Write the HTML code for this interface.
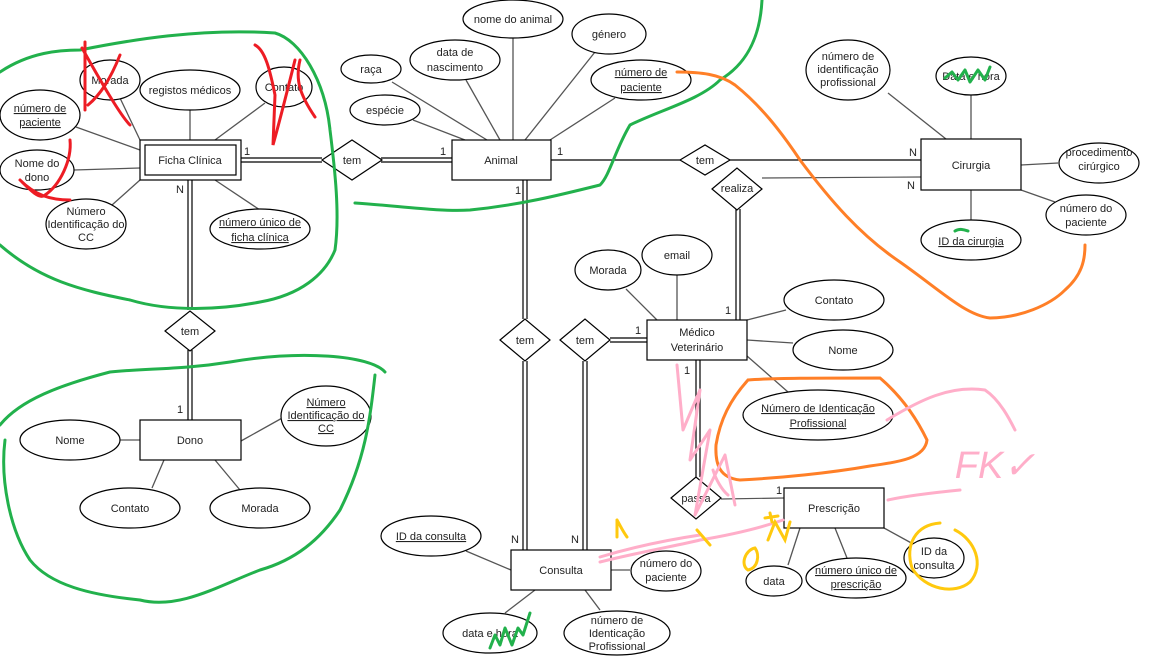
<!DOCTYPE html>
<html><head><meta charset="utf-8"><style>
html,body{margin:0;padding:0;background:#fff;}
svg{display:block;font-family:"Liberation Sans",Arial,sans-serif;}
text{font-size:11px;fill:#222;text-anchor:middle;}
.e{fill:#fff;stroke:#000;stroke-width:1.2;}
.r{fill:#fff;stroke:#000;stroke-width:1.2;}
.l{stroke:#555;stroke-width:1.3;fill:none;}
.d{stroke:#000;stroke-width:1.2;fill:none;}
.g{stroke:#22b14c;stroke-width:3;fill:none;stroke-linecap:round;stroke-linejoin:round;}
.rd{stroke:#ed1c24;stroke-width:3;fill:none;stroke-linecap:round;}
.o{stroke:#ff7f27;stroke-width:3;fill:none;stroke-linecap:round;}
.p{stroke:#ffaec9;stroke-width:3;fill:none;stroke-linecap:round;stroke-linejoin:round;}
.y{stroke:#ffc90e;stroke-width:3;fill:none;stroke-linecap:round;}
</style></head><body>
<svg width="1152" height="656" viewBox="0 0 1152 656" xmlns="http://www.w3.org/2000/svg">
<!-- attribute lines -->
<g class="l">
<line x1="120" y1="98" x2="140" y2="140"/>
<line x1="190" y1="110" x2="190" y2="140"/>
<line x1="265" y1="103" x2="215" y2="140"/>
<line x1="76" y1="127" x2="140" y2="150"/>
<line x1="74" y1="170" x2="140" y2="168"/>
<line x1="112" y1="205" x2="140" y2="180"/>
<line x1="260" y1="210" x2="215" y2="180"/>
<line x1="392" y1="82" x2="487" y2="140"/>
<line x1="413" y1="120" x2="465" y2="140"/>
<line x1="466" y1="80" x2="500" y2="140"/>
<line x1="513" y1="37" x2="513" y2="140"/>
<line x1="595" y1="52" x2="525" y2="140"/>
<line x1="615" y1="98" x2="550" y2="140"/>
<line x1="888" y1="93" x2="946" y2="139"/>
<line x1="971" y1="94" x2="971" y2="139"/>
<line x1="1058" y1="163" x2="1021" y2="165"/>
<line x1="1055" y1="202" x2="1021" y2="190"/>
<line x1="971" y1="190" x2="971" y2="220"/>
<line x1="626" y1="289" x2="657" y2="320"/>
<line x1="677" y1="275" x2="677" y2="320"/>
<line x1="786" y1="310" x2="747" y2="320"/>
<line x1="793" y1="343" x2="747" y2="340"/>
<line x1="788" y1="392" x2="747" y2="356"/>
<line x1="120" y1="440" x2="140" y2="440"/>
<line x1="284" y1="417" x2="241" y2="441"/>
<line x1="152" y1="488" x2="164" y2="460"/>
<line x1="240" y1="490" x2="215" y2="460"/>
<line x1="466" y1="551" x2="511" y2="570"/>
<line x1="611" y1="570" x2="630" y2="570"/>
<line x1="505" y1="613" x2="535" y2="590"/>
<line x1="600" y1="610" x2="585" y2="590"/>
<line x1="788" y1="565" x2="800" y2="528"/>
<line x1="847" y1="558" x2="835" y2="528"/>
<line x1="915" y1="545" x2="884" y2="528"/>
</g>
<!-- relationship lines -->
<g class="d">
<line x1="241" y1="158" x2="322" y2="158"/><line x1="241" y1="162" x2="322" y2="162"/>
<line x1="381" y1="158" x2="452" y2="158"/><line x1="381" y1="162" x2="452" y2="162"/>
<line x1="188" y1="180" x2="188" y2="310"/><line x1="192" y1="180" x2="192" y2="310"/>
<line x1="188" y1="350" x2="188" y2="420"/><line x1="192" y1="350" x2="192" y2="420"/>
<line x1="523" y1="180" x2="523" y2="319"/><line x1="527" y1="180" x2="527" y2="319"/>
<line x1="523" y1="361" x2="523" y2="550"/><line x1="527" y1="361" x2="527" y2="550"/>
<line x1="583" y1="361" x2="583" y2="550"/><line x1="587" y1="361" x2="587" y2="550"/>
<line x1="610" y1="338" x2="647" y2="338"/><line x1="610" y1="342" x2="647" y2="342"/>
<line x1="696" y1="360" x2="696" y2="477"/><line x1="700" y1="360" x2="700" y2="477"/>
<line x1="736" y1="209" x2="736" y2="320"/><line x1="740" y1="209" x2="740" y2="320"/>
<line x1="551" y1="160" x2="680" y2="160"/>
<line x1="730" y1="160" x2="921" y2="160"/>
<line x1="762" y1="178" x2="921" y2="177" stroke="#555"/>
<line x1="721" y1="499" x2="784" y2="498" stroke="#555"/>
</g>
<!-- entities -->
<rect class="r" x="140" y="140" width="101" height="40"/>
<rect class="r" x="145" y="145" width="91" height="30"/>
<text x="190" y="164">Ficha Clínica</text>
<rect class="r" x="452" y="140" width="99" height="40"/><text x="501" y="164">Animal</text>
<rect class="r" x="921" y="139" width="100" height="51"/><text x="971" y="169">Cirurgia</text>
<rect class="r" x="647" y="320" width="100" height="40"/><text x="697" y="336">Médico</text><text x="697" y="351">Veterinário</text>
<rect class="r" x="140" y="420" width="101" height="40"/><text x="190" y="444">Dono</text>
<rect class="r" x="511" y="550" width="100" height="40"/><text x="561" y="574">Consulta</text>
<rect class="r" x="784" y="488" width="100" height="40"/><text x="834" y="512">Prescrição</text>
<!-- diamonds -->
<g class="r">
<polygon points="322,160 352,140 382,160 352,180"/>
<polygon points="680,160 705,145 730,160 705,175"/>
<polygon points="712,189 737,168 762,189 737,210"/>
<polygon points="165,331 190,311 215,331 190,351"/>
<polygon points="500,340 525,319 550,340 525,361"/>
<polygon points="560,340 585,319 610,340 585,361"/>
<polygon points="671,498 696,477 721,498 696,519"/>
</g>
<text x="352" y="164">tem</text><text x="705" y="164">tem</text><text x="737" y="192">realiza</text>
<text x="190" y="335">tem</text><text x="525" y="344">tem</text><text x="585" y="344">tem</text><text x="696" y="502">passa</text>
<!-- cardinalities -->
<text x="247" y="155">1</text><text x="443" y="155">1</text><text x="560" y="155">1</text><text x="518" y="194">1</text>
<text x="180" y="193">N</text><text x="180" y="413">1</text>
<text x="913" y="156">N</text><text x="911" y="189">N</text>
<text x="728" y="314">1</text><text x="638" y="334">1</text><text x="687" y="374">1</text>
<text x="515" y="543">N</text><text x="575" y="543">N</text><text x="779" y="494">1</text>
<!-- ellipses -->
<g class="e">
<ellipse cx="110" cy="80" rx="30" ry="20"/>
<ellipse cx="190" cy="90" rx="50" ry="20"/>
<ellipse cx="284" cy="87" rx="28" ry="20"/>
<ellipse cx="40" cy="115" rx="40" ry="25"/>
<ellipse cx="37" cy="170" rx="37" ry="20"/>
<ellipse cx="86" cy="224" rx="40" ry="25"/>
<ellipse cx="260" cy="229" rx="50" ry="20"/>
<ellipse cx="371" cy="69" rx="30" ry="14"/>
<ellipse cx="385" cy="110" rx="35" ry="15"/>
<ellipse cx="455" cy="60" rx="45" ry="20"/>
<ellipse cx="513" cy="19" rx="50" ry="19"/>
<ellipse cx="609" cy="34" rx="37" ry="20"/>
<ellipse cx="641" cy="80" rx="50" ry="20"/>
<ellipse cx="848" cy="70" rx="42" ry="30"/>
<ellipse cx="971" cy="76" rx="35" ry="19"/>
<ellipse cx="1099" cy="163" rx="40" ry="20"/>
<ellipse cx="971" cy="240" rx="50" ry="20"/>
<ellipse cx="1086" cy="215" rx="40" ry="20"/>
<ellipse cx="608" cy="270" rx="33" ry="20"/>
<ellipse cx="677" cy="255" rx="35" ry="20"/>
<ellipse cx="834" cy="300" rx="50" ry="20"/>
<ellipse cx="843" cy="350" rx="50" ry="20"/>
<ellipse cx="818" cy="415" rx="75" ry="25"/>
<ellipse cx="70" cy="440" rx="50" ry="20"/>
<ellipse cx="326" cy="416" rx="45" ry="30"/>
<ellipse cx="130" cy="508" rx="50" ry="20"/>
<ellipse cx="260" cy="508" rx="50" ry="20"/>
<ellipse cx="431" cy="536" rx="50" ry="20"/>
<ellipse cx="666" cy="571" rx="35" ry="20"/>
<ellipse cx="490" cy="633" rx="47" ry="20"/>
<ellipse cx="617" cy="633" rx="53" ry="22"/>
<ellipse cx="774" cy="581" rx="28" ry="15"/>
<ellipse cx="856" cy="578" rx="50" ry="20"/>
<ellipse cx="934" cy="558" rx="30" ry="20"/>
</g>
<g>
<text x="110" y="84">Morada</text>
<text x="190" y="94">registos médicos</text>
<text x="284" y="91">Contato</text>
<text x="40" y="112" text-decoration="underline">número de</text><text x="40" y="126" text-decoration="underline">paciente</text>
<text x="37" y="167">Nome do</text><text x="37" y="181">dono</text>
<text x="86" y="215">Número</text><text x="86" y="228">Identificação do</text><text x="86" y="241">CC</text>
<text x="260" y="226" text-decoration="underline">número único de</text><text x="260" y="241" text-decoration="underline">ficha clínica</text>
<text x="371" y="73">raça</text>
<text x="385" y="114">espécie</text>
<text x="455" y="56">data de</text><text x="455" y="71">nascimento</text>
<text x="513" y="23">nome do animal</text>
<text x="609" y="38">género</text>
<text x="641" y="76" text-decoration="underline">número de</text><text x="641" y="91" text-decoration="underline">paciente</text>
<text x="848" y="60">número de</text><text x="848" y="73">identificação</text><text x="848" y="86">profissional</text>
<text x="971" y="80">Data e hora</text>
<text x="1099" y="156">procedimento</text><text x="1099" y="170">cirúrgico</text>
<text x="971" y="245" text-decoration="underline">ID da cirurgia</text>
<text x="1086" y="212">número do</text><text x="1086" y="226">paciente</text>
<text x="608" y="274">Morada</text>
<text x="677" y="259">email</text>
<text x="834" y="304">Contato</text>
<text x="843" y="354">Nome</text>
<text x="818" y="412" text-decoration="underline">Número de Identicação</text><text x="818" y="427" text-decoration="underline">Profissional</text>
<text x="70" y="444">Nome</text>
<text x="326" y="406" text-decoration="underline">Número</text><text x="326" y="419" text-decoration="underline">Identificação do</text><text x="326" y="432" text-decoration="underline">CC</text>
<text x="130" y="512">Contato</text>
<text x="260" y="512">Morada</text>
<text x="431" y="540" text-decoration="underline">ID da consulta</text>
<text x="666" y="567">número do</text><text x="666" y="581">paciente</text>
<text x="490" y="637">data e hora</text>
<text x="617" y="624">número de</text><text x="617" y="637">Identicação</text><text x="617" y="650">Profissional</text>
<text x="774" y="585">data</text>
<text x="856" y="574" text-decoration="underline">número único de</text><text x="856" y="588" text-decoration="underline">prescrição</text>
<text x="934" y="555">ID da</text><text x="934" y="569">consulta</text>
</g>
<!-- annotations: green -->
<path class="g" d="M0,72 C30,52 60,50 80,50 C130,40 200,28 275,33 C300,40 325,80 330,130 C335,170 340,215 335,250 C325,275 300,295 260,302 C220,310 170,312 130,300 C80,290 40,280 0,245"/>
<path class="g" d="M355,203 C400,206 440,212 470,210 C520,205 560,195 600,185 C610,175 615,150 630,125 C660,110 700,100 720,80 C745,65 760,40 762,0"/>
<path class="g" d="M0,425 C20,400 60,385 110,372 C150,368 180,370 230,362 C300,350 370,355 385,372 M375,375 C370,420 365,460 340,510 C320,540 295,560 260,570 C220,585 180,610 140,600 C90,595 50,585 30,560 C10,530 0,480 5,440"/>
<path class="g" d="M945,78 L952,72 L958,80 L965,70 L970,82 L978,70 L985,80 L990,67"/>
<path class="g" d="M955,231 C960,228 965,230 968,231"/>
<path class="g" d="M490,648 L495,635 L500,645 L505,628 L512,645 L518,628 L523,635 L530,613"/>
<!-- red X -->
<path class="rd" d="M85,42 L85,110 M82,48 C100,80 120,115 130,125 M120,55 C110,80 100,95 88,105"/>
<path class="rd" d="M255,45 C265,50 270,70 275,95 L273,145 C280,120 285,100 295,60 M300,60 C295,80 300,95 315,117"/>
<path class="rd" d="M70,140 C72,160 60,185 45,195 C40,200 30,190 22,182 M20,180 C35,195 50,200 70,200"/>
<!-- orange -->
<path class="o" d="M677,72 C700,72 720,74 735,85 C760,105 780,130 800,160 C830,200 860,235 900,262 C940,290 965,315 990,318 C1020,318 1050,305 1065,290 C1082,275 1085,260 1085,245"/>
<path class="o" d="M748,380 C770,378 820,378 880,378 C900,395 915,415 927,440 C925,458 900,462 870,466 C830,473 780,478 740,480 C720,478 715,465 716,445 C720,420 730,400 748,380"/>
<!-- pink -->
<path class="p" d="M677,365 L683,430 L700,390 L690,460 L710,430 L695,515 L725,455 L735,505"/>
<path class="p" d="M713,470 C716,480 722,490 728,495"/>
<path class="p" d="M600,562 C640,552 680,545 700,540 C730,535 760,528 783,520 M600,557 C640,545 680,538 700,535"/>
<path class="p" d="M888,500 C910,495 940,492 960,490"/>
<path class="p" d="M887,420 C920,400 950,385 985,390 C1000,400 1010,420 1015,430"/>
<text x="995" y="478" style="font-size:38px;fill:#ffaec9;font-style:italic;" >FK✓</text>
<!-- yellow -->
<path class="y" d="M940,523 C915,525 905,545 912,568 C925,590 955,595 970,582 C985,565 975,540 955,530"/>
<path class="y" d="M617,520 L617,537 M617,520 C620,525 622,530 627,537"/>
<path class="y" d="M697,530 L710,545"/>
<path class="y" d="M755,548 C745,550 740,565 748,570 C758,568 760,555 755,548"/>
<path class="y" d="M768,540 L775,522 L785,540 L790,522 M765,518 L778,516 M770,513 L772,522"/>
</svg>
</body></html>
